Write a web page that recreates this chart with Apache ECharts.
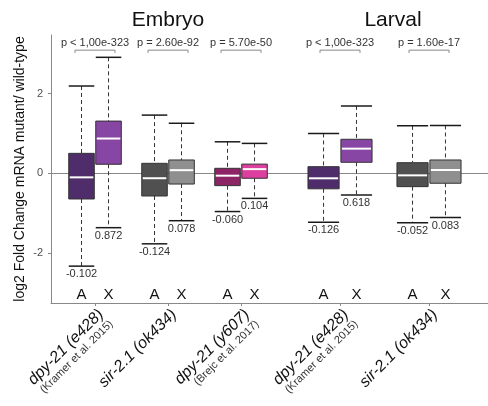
<!DOCTYPE html>
<html><head><meta charset="utf-8">
<script src="https://cdn.jsdelivr.net/npm/echarts@6/dist/echarts.min.js"></script>
<style>html,body{margin:0;padding:0;background:#fff}#c{width:488px;height:406px}</style>
</head><body><div id="c"></div>
<script>
const stageTitles = ['Embryo', 'Larval'];
const groupNames = ['dpy-21 (e428)', 'sir-2.1 (ok434)', 'dpy-21 (y607)', 'dpy-21 (e428)', 'sir-2.1 (ok434)'];
const groupRefs = ['(Kramer et al. 2015)', '', '(Brejc et al. 2017)', '(Kramer et al. 2015)', ''];
const groupStage = [0, 0, 0, 1, 1];
const pValueLabels = ['p < 1,00e-323', 'p = 2.60e-92', 'p = 5.70e-50', 'p < 1,00e-323', 'p = 1.60e-17'];
const chromLabels = ['A', 'X'];
const yTicks = [-2, 0, 2];
// [lower whisker, Q1, median, Q3, upper whisker]
const autosomeStats = [
  [-2.33, -0.645, -0.102, 0.50, 2.19],
  [-1.77, -0.57, -0.124, 0.25, 1.46],
  [-0.96, -0.31, -0.060, 0.125, 0.79],
  [-1.23, -0.39, -0.126, 0.166, 1.00],
  [-1.24, -0.335, -0.052, 0.266, 1.19]
];
const xChromStats = [
  [-1.365, 0.226, 0.872, 1.31, 2.91],
  [-1.19, -0.27, 0.078, 0.334, 1.255],
  [-0.63, -0.125, 0.104, 0.23, 0.75],
  [-0.545, 0.276, 0.618, 0.853, 1.69],
  [-1.11, -0.25, 0.083, 0.334, 1.20]
];
const autosomeColors = ['#4f2d6b', '#505050', '#8c2466', '#4f2d6b', '#505050'];
const xChromColors = ['#8746a3', '#8f8f8f', '#dd3f9f', '#8746a3', '#8f8f8f'];

// build per-stage lookup
const stageGroups = [[], []];
groupStage.forEach((s, g) => stageGroups[s].push(g));

const Y_MIN = -3.255, Y_MAX = 3.47;
const BOX_W = 0.35, DODGE = 0.185;
const FONT = 'Liberation Sans, Arial, sans-serif';

function boxData(stage) {
  const out = [];
  stageGroups[stage].forEach((g, ci) => {
    out.push([ci, 0].concat(autosomeStats[g], [g]));
    out.push([ci, 1].concat(xChromStats[g], [g]));
  });
  return out;
}
function bracketData(stage) {
  return stageGroups[stage].map((g, ci) => [ci, g]);
}

function renderBox(params, api) {
  const ci = api.value(0), side = api.value(1);
  const lo = api.value(2), q1 = api.value(3), med = api.value(4), q3 = api.value(5), hi = api.value(6);
  const g = api.value(7);
  const xc = api.coord([ci + (side ? DODGE : -DODGE), 0])[0];
  const w = api.size([BOX_W, 0])[0];
  const Y = v => api.coord([ci, v])[1];
  const fill = side ? xChromColors[g] : autosomeColors[g];
  const medVal = side ? xChromStats[g][2] : autosomeStats[g][2];
  const dash = { stroke: '#333', lineWidth: 1, lineDash: [4, 3] };
  return {
    type: 'group',
    children: [
      { type: 'line', shape: { x1: xc, y1: Y(hi), x2: xc, y2: Y(q3) }, style: dash },
      { type: 'line', shape: { x1: xc, y1: Y(q1), x2: xc, y2: Y(lo) }, style: dash },
      { type: 'line', shape: { x1: xc - w / 2, y1: Y(hi), x2: xc + w / 2, y2: Y(hi) }, style: { stroke: '#1a1a1a', lineWidth: 1.5 } },
      { type: 'line', shape: { x1: xc - w / 2, y1: Y(lo), x2: xc + w / 2, y2: Y(lo) }, style: { stroke: '#1a1a1a', lineWidth: 1.5 } },
      { type: 'rect', shape: { x: xc - w / 2, y: Y(q3), width: w, height: Y(q1) - Y(q3) }, style: { fill: fill, stroke: '#333', lineWidth: 1 } },
      { type: 'line', shape: { x1: xc - w / 2 + 1, y1: Y(med), x2: xc + w / 2 - 1, y2: Y(med) }, style: { stroke: '#ffffff', lineWidth: 2 } },
      { type: 'text', style: { x: xc, y: Y(lo) + 8, text: medVal.toFixed(3), fill: '#333', fontSize: 11, fontFamily: FONT, align: 'center', verticalAlign: 'middle' } },
      { type: 'text', style: { x: xc, y: Y(-3.05), text: chromLabels[side], fill: '#111', fontSize: 15, fontFamily: FONT, align: 'center', verticalAlign: 'middle' } }
    ]
  };
}

function renderBracket(params, api) {
  const ci = api.value(0), g = api.value(1);
  const xc = api.coord([ci, 0])[0];
  const Y = v => api.coord([ci, v])[1];
  const yTop = Y(3.09), yBot = Y(3.02);
  return {
    type: 'group',
    children: [
      { type: 'polyline', shape: { points: [[xc - 20, yBot], [xc - 20, yTop], [xc + 20, yTop], [xc + 20, yBot]] }, style: { stroke: '#888', lineWidth: 1, fill: null } },
      { type: 'text', style: { x: xc, y: Y(3.26), text: pValueLabels[g], fill: '#333', fontSize: 11, fontFamily: FONT, align: 'center', verticalAlign: 'middle' } }
    ]
  };
}

function xLabel(stage) {
  return function (v) {
    const g = stageGroups[stage][Math.round(v)];
    if (g === undefined) return '';
    return groupRefs[g] ? '{main|' + groupNames[g] + '}\n{ref|' + groupRefs[g] + '}' : '{main|' + groupNames[g] + '}';
  };
}

const labelRich = {
  main: { fontSize: 16, fontStyle: 'italic', color: '#111', fontFamily: FONT, lineHeight: 17 },
  ref: { fontSize: 11, color: '#333', fontFamily: FONT, lineHeight: 12 }
};

function makeXAxis(stage, min, max) {
  const vals = stageGroups[stage].map((g, i) => i);
  return {
    gridIndex: stage, type: 'value', min: min, max: max,
    axisLine: { show: true, onZero: false, lineStyle: { color: '#888', width: 1 } },
    axisTick: { show: true, customValues: vals, length: 3, lineStyle: { color: '#888' } },
    axisLabel: { customValues: vals, formatter: xLabel(stage), rotate: 45, margin: 3, verticalAlign: 'top', rich: labelRich },
    splitLine: { show: false }
  };
}

const chart = echarts.init(document.getElementById('c'));
chart.setOption({
  animation: false,
  backgroundColor: '#fff',
  title: [
    { text: stageTitles[0], left: 163, top: 5, textAlign: 'center', textStyle: { fontSize: 21, fontWeight: 'normal', color: '#111', fontFamily: FONT } },
    { text: stageTitles[1], left: 388, top: 5, textAlign: 'center', textStyle: { fontSize: 21, fontWeight: 'normal', color: '#111', fontFamily: FONT } }
  ],
  grid: [
    { left: 51, top: 35, width: 235, bottom: 103 },
    { left: 286, top: 35, right: 0, bottom: 103 }
  ],
  xAxis: [makeXAxis(0, -0.603, 2.616), makeXAxis(1, -0.607, 1.663)],
  yAxis: [
    {
      gridIndex: 0, type: 'value', min: Y_MIN, max: Y_MAX,
      name: 'log2 Fold Change mRNA mutant/ wild-type', nameLocation: 'middle', nameGap: 24,
      nameTextStyle: { fontSize: 14, color: '#111', fontFamily: FONT },
      axisLine: { show: true, onZero: false, lineStyle: { color: '#888', width: 1 } },
      axisTick: { show: true, customValues: yTicks, length: 3, lineStyle: { color: '#888' } },
      axisLabel: { customValues: yTicks, margin: 8, fontSize: 11, color: '#4d4d4d', fontFamily: FONT },
      splitLine: { show: false }
    },
    { gridIndex: 1, type: 'value', min: Y_MIN, max: Y_MAX, show: false, axisLine: { onZero: false }, splitLine: { show: false } }
  ],
  series: [0, 1].map(stage => ({
    type: 'custom', xAxisIndex: stage, yAxisIndex: stage, z: 3,
    renderItem: renderBox, data: boxData(stage), clip: false,
    markLine: { z: 1, silent: true, symbol: 'none', label: { show: false }, lineStyle: { color: '#888', width: 1, type: 'solid' }, data: [{ yAxis: 0 }] }
  })).concat([0, 1].map(stage => ({
    type: 'custom', xAxisIndex: stage, yAxisIndex: stage, z: 2,
    renderItem: renderBracket, data: bracketData(stage), clip: false
  })))
});
</script>
</body></html>
